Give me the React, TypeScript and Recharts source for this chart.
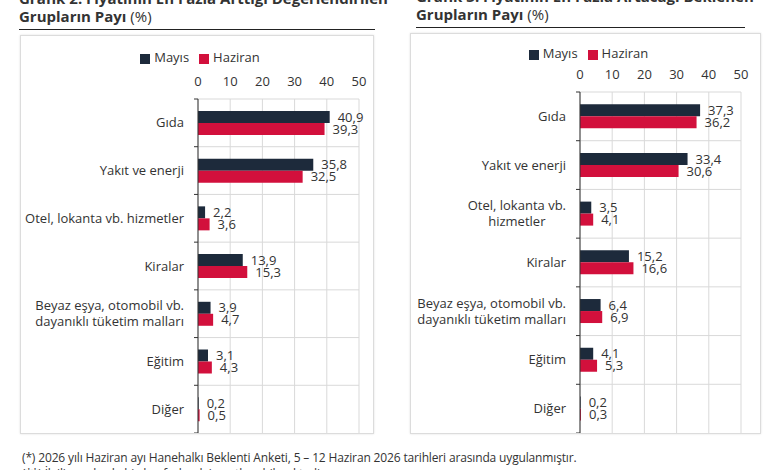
import { BarChart, Bar, XAxis, YAxis, CartesianGrid, Legend, LabelList } from 'recharts';

const categoriesLeft = [
    'Gıda',
    'Yakıt ve enerji',
    'Otel, lokanta vb. hizmetler',
    'Kiralar',
    'Beyaz eşya, otomobil vb.\ndayanıklı tüketim malları',
    'Eğitim',
    'Diğer',
];
const mayisLeft = [40.9, 35.8, 2.2, 13.9, 3.9, 3.1, 0.2];
const haziranLeft = [39.3, 32.5, 3.6, 15.3, 4.7, 4.3, 0.5];

const categoriesRight = [
    'Gıda',
    'Yakıt ve enerji',
    'Otel, lokanta vb.\nhizmetler',
    'Kiralar',
    'Beyaz eşya, otomobil vb.\ndayanıklı tüketim malları',
    'Eğitim',
    'Diğer',
];
const mayisRight = [37.3, 33.4, 3.5, 15.2, 6.4, 4.1, 0.2];
const haziranRight = [36.2, 30.6, 4.1, 16.6, 6.9, 5.3, 0.3];

const xTicks = [0, 10, 20, 30, 40, 50];

const NAVY = '#1d2a3b';
const RED = '#d2103c';
const TEXT = '#333333';
const GRID = '#d9d9d9';
const FONT = "'Open Sans', sans-serif";
const X_AXIS_H = 30;

const fmt = (v: number) => v.toFixed(1).replace('.', ',');

let measureCtx: CanvasRenderingContext2D | null = null;
const measure = (text: string, font: string) => {
    if (!measureCtx) measureCtx = document.createElement('canvas').getContext('2d');
    if (!measureCtx) return text.length * 6;
    measureCtx.font = font;
    return measureCtx.measureText(text).width;
};

const CategoryTick = (props: any) => {
    const { x, y, payload, band, isLast } = props;
    const lines: string[] = String(payload.value).split('\n');
    const fontSize = 13;
    const font = `${fontSize}px 'Open Sans'`;
    const maxW = Math.max(...lines.map((l) => measure(l, font)));
    const right = x - 14;
    const cx = right - maxW / 2;
    const lh = 16;
    const startY = y - ((lines.length - 1) * lh) / 2;
    return (
        <g>
            <line x1={x - 4} x2={x} y1={y - band / 2} y2={y - band / 2} stroke={TEXT} strokeWidth={1} />
            {isLast(payload.index) && (
                <line x1={x - 4} x2={x} y1={y + band / 2} y2={y + band / 2} stroke={TEXT} strokeWidth={1} />
            )}
            {lines.map((l, i) => (
                <text
                    key={i}
                    x={cx}
                    y={startY + i * lh}
                    dy="0.35em"
                    textAnchor="middle"
                    fontSize={fontSize}
                    fontFamily={FONT}
                    fill={TEXT}
                >
                    {l}
                </text>
            ))}
        </g>
    );
};

type PanelProps = {
    left: number;
    top: number;
    width: number;
    height: number;
    yAxisWidth: number;
    marginTop: number;
    marginRight: number;
    legendTop: number;
    categories: string[];
    mayis: number[];
    haziran: number[];
};

const ChartPanel = ({
    left,
    top,
    width,
    height,
    yAxisWidth,
    marginTop,
    marginRight,
    legendTop,
    categories,
    mayis,
    haziran,
}: PanelProps) => {
    const data = categories.map((name, i) => ({ name, Mayıs: mayis[i], Haziran: haziran[i] }));
    const chartH = height - 2;
    const plotHeight = chartH - marginTop - X_AXIS_H;
    const band = plotHeight / categories.length;
    return (
        <div
            style={{
                position: 'absolute',
                left,
                top,
                width,
                height,
                border: '1px solid #dcdcdc',
                boxShadow: '0 0 2px rgba(0,0,0,0.12)',
                boxSizing: 'border-box',
                background: '#fff',
            }}
        >
            <BarChart
                width={width - 2}
                height={chartH}
                data={data}
                layout="vertical"
                barCategoryGap="25%"
                barGap={0}
                margin={{ top: marginTop, right: marginRight, bottom: 0, left: 0 }}
                style={{ fontFamily: FONT }}
            >
                <CartesianGrid
                    stroke={GRID}
                    horizontalCoordinatesGenerator={({ offset }: any) =>
                        categories.map((_, i) => offset.top + (offset.height * i) / categories.length)
                    }
                />
                <XAxis
                    type="number"
                    orientation="top"
                    height={X_AXIS_H}
                    domain={[0, 50]}
                    ticks={xTicks}
                    axisLine={false}
                    tickLine={false}
                    tickSize={0}
                    tickMargin={13}
                    interval={0}
                    tick={{ fontSize: 13, fill: TEXT, fontFamily: FONT }}
                />
                <YAxis
                    type="category"
                    dataKey="name"
                    width={yAxisWidth}
                    axisLine={{ stroke: TEXT, strokeWidth: 1 }}
                    tickLine={false}
                    tickSize={0}
                    tickMargin={0}
                    interval={0}
                    tick={(p: any) => (
                        <CategoryTick {...p} band={band} isLast={(i: number) => i === categories.length - 1} />
                    )}
                />
                <Legend
                    verticalAlign="middle"
                    align="center"
                    layout="horizontal"
                    iconType="square"
                    iconSize={10}
                    itemSorter={(item: any) => (item.value === 'Mayıs' ? 0 : 1)}
                    wrapperStyle={{ top: legendTop, left: 8, width: width - 2, fontSize: 13, lineHeight: '16px' }}
                    formatter={(v: string) => <span style={{ color: TEXT }}>{v}</span>}
                />
                <Bar dataKey="Mayıs" fill={NAVY} isAnimationActive={false}>
                    <LabelList
                        dataKey="Mayıs"
                        position="right"
                        offset={8}
                        formatter={(v: any) => fmt(Number(v))}
                        style={{ fontSize: 13, fill: TEXT, fontFamily: FONT }}
                    />
                </Bar>
                <Bar dataKey="Haziran" fill={RED} isAnimationActive={false}>
                    <LabelList
                        dataKey="Haziran"
                        position="right"
                        offset={8}
                        formatter={(v: any) => fmt(Number(v))}
                        style={{ fontSize: 13, fill: TEXT, fontFamily: FONT }}
                    />
                </Bar>
            </BarChart>
        </div>
    );
};

const Title = ({ left, top, width, line1, line2 }: { left: number; top: number; width: number; line1: string; line2: string }) => (
    <div style={{ position: 'absolute', left, top, width, fontFamily: FONT, color: TEXT }}>
        <div style={{ fontSize: 15, fontWeight: 700, lineHeight: '17px', whiteSpace: 'nowrap' }}>{line1}</div>
        <div style={{ fontSize: 15, lineHeight: '18px', whiteSpace: 'nowrap' }}>
            <span style={{ fontWeight: 700 }}>{line2}</span> (%)
        </div>
        <div style={{ marginTop: 4, borderTop: '1.5px solid #222' }} />
    </div>
);

export default function App() {
    return (
        <div
            style={{
                position: 'absolute',
                left: 0,
                top: 0,
                width: 780,
                height: 470,
                overflow: 'hidden',
                background: '#fff',
                fontFamily: FONT,
            }}
        >
            <Title
                left={19}
                top={-10}
                width={356}
                line1="Grafik 2. Fiyatının En Fazla Arttığı Değerlendirilen"
                line2="Grupların Payı"
            />
            <Title
                left={416}
                top={-12}
                width={329}
                line1="Grafik 3. Fiyatının En Fazla Artacağı Beklenen"
                line2="Grupların Payı"
            />
            <ChartPanel
                left={20}
                top={35}
                width={354}
                height={399}
                yAxisWidth={177}
                marginTop={33}
                marginRight={14}
                legendTop={13}
                categories={categoriesLeft}
                mayis={mayisLeft}
                haziran={haziranLeft}
            />
            <ChartPanel
                left={410}
                top={33}
                width={351}
                height={401}
                yAxisWidth={169}
                marginTop={28}
                marginRight={19}
                legendTop={11}
                categories={categoriesRight}
                mayis={mayisRight}
                haziran={haziranRight}
            />
            <div
                style={{
                    position: 'absolute',
                    left: 22,
                    top: 450,
                    fontSize: 12,
                    lineHeight: '16px',
                    color: TEXT,
                    whiteSpace: 'nowrap',
                    letterSpacing: -0.15,
                }}
            >
                <div>(*) 2026 yılı Haziran ayı Hanehalkı Beklenti Anketi, 5 – 12 Haziran 2026 tarihleri arasında uygulanmıştır.</div>
                <div>(**) İlgili sorularda birden fazla şık işaretlenebilmektedir.</div>
            </div>
        </div>
    );
}
